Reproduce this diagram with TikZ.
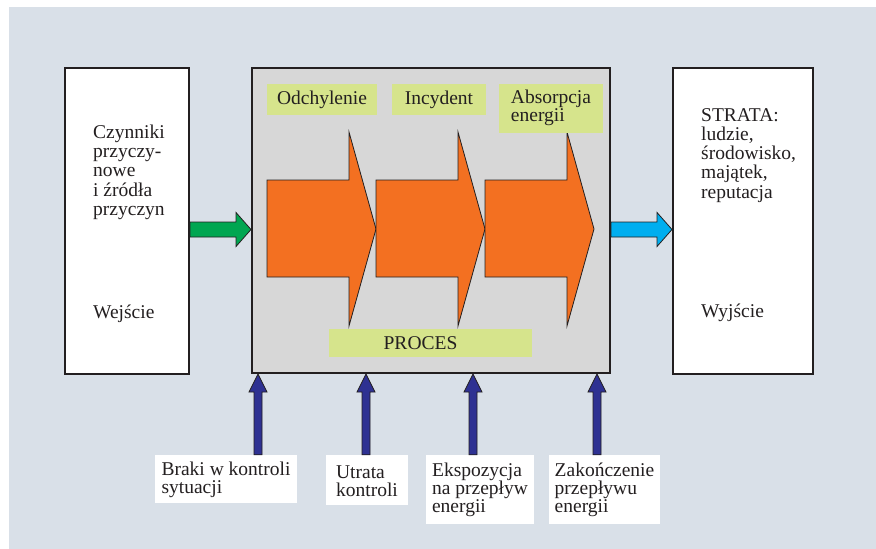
\documentclass[tikz,border=0pt]{standalone}
\usepackage{fontspec}
\setmainfont{Liberation Serif}
\usetikzlibrary{calc}
\definecolor{tlo}{RGB}{217,224,232}
\definecolor{szary}{RGB}{215,215,215}
\definecolor{zolty}{RGB}{214,228,140}
\definecolor{pomar}{RGB}{243,112,33}
\definecolor{ziel}{RGB}{0,166,81}
\definecolor{cyjan}{RGB}{0,174,239}
\definecolor{granat}{RGB}{46,49,146}
\definecolor{kontur}{RGB}{35,31,32}

\begin{document}
\begin{tikzpicture}[x=1pt,y=-1pt,
  every node/.style={inner sep=0pt,text=kontur,font=\rmfamily\fontsize{19.5}{19.25}\selectfont},
  box/.style={draw=kontur,line width=2pt},
  etykieta/.style={fill=zolty,align=left},
  opis/.style={fill=white,align=left,font=\rmfamily\fontsize{19.5}{18}\selectfont},
  gruba/.style={draw=kontur,line width=0.8pt,line join=miter}]
\useasboundingbox (0,0) rectangle (876,549);
\fill[white] (0,0) rectangle (876,549);
\fill[tlo] (9,7) rectangle (876,549);
% bloki
\node[box,fill=white,minimum width=124,minimum height=306] (wej) at (127,221) {};
\node[box,fill=szary,minimum width=358,minimum height=305] (proc) at (431,220.5) {};
\node[box,fill=white,minimum width=140,minimum height=306] (wyj) at (743,221) {};
\node[anchor=north west,align=left] (przyczyny) at (93,124.7) {Czynniki\\przyczy-\\nowe\\i źródła\\przyczyn};
\node[anchor=base west] (wejscie) at (93,318) {Wejście};
\node[anchor=north west,align=left] (strata) at (701,108) {STRATA:\\ludzie,\\środowisko,\\majątek,\\reputacja};
\node[anchor=base west] (wyjscie) at (701,317) {Wyjście};
% strzalki procesu
\foreach \l in {267,376,485}
  \draw[gruba,fill=pomar] (\l,180) -- (\l+82,180) -- (\l+82,132) -- (\l+109,229) -- (\l+82,326) -- (\l+82,277) -- (\l,277) -- cycle;
\node[etykieta,minimum width=110,minimum height=31] (odchylenie) at (322,99.5) {Odchylenie};
\node[etykieta,minimum width=94,minimum height=31] (incydent) at (439,99.5) {Incydent};
\node[etykieta,minimum width=104,minimum height=49] (absorpcja) at (551,108.5) {\raisebox{-1.5pt}{\begin{tabular}{@{}l@{}}Absorpcja\\[-0.75pt]energii\end{tabular}}};
\node[etykieta,minimum width=203,minimum height=28] (proces) at (430.5,343) {PROCES\hspace{20pt}};
% wejscie i wyjscie
\coordinate (g0) at (wej.east |- 0,229.5);
\coordinate (g1) at (proc.west |- 0,229.5);
\draw[gruba,fill=ziel] ($(g0)+(0,-7.5)$) -- ($(g1)+(-15,-7.5)$) -- ($(g1)+(-15,-17)$) -- (g1) -- ($(g1)+(-15,17)$) -- ($(g1)+(-15,7.5)$) -- ($(g0)+(0,7.5)$) -- cycle;
\coordinate (c0) at (proc.east |- 0,229.5);
\coordinate (c1) at (wyj.west |- 0,229.5);
\draw[gruba,fill=cyjan] ($(c0)+(0,-7.5)$) -- ($(c1)+(-15,-7.5)$) -- ($(c1)+(-15,-17)$) -- (c1) -- ($(c1)+(-15,17)$) -- ($(c1)+(-15,7.5)$) -- ($(c0)+(0,7.5)$) -- cycle;
% czynniki od dolu
\node[opis,minimum width=142,minimum height=48] (braki) at (226,479) {Braki w kontroli\\sytuacji\vspace{-2pt}};
\node[opis,minimum width=82,minimum height=50] (utrata) at (367,480) {Utrata\\kontroli\vspace{-2pt}};
\node[opis,minimum width=108,minimum height=69] (ekspozycja) at (480,489.5) {Ekspozycja\\na przepływ\\energii};
\node[opis,minimum width=111,minimum height=69] (zakonczenie) at (604.5,489.5) {Zakończenie\\przepływu\\energii};
\foreach \n/\x in {braki/258,utrata/366,ekspozycja/473,zakonczenie/597}{
  \coordinate (pocz) at (\n.north -| \x,0);
  \coordinate (kon) at (proc.south -| \x,0);
  \draw[gruba,fill=granat] ($(pocz)+(-4,0)$) -- ($(kon)+(-4,18)$) -- ($(kon)+(-9,18)$) -- (kon) -- ($(kon)+(9,18)$) -- ($(kon)+(4,18)$) -- ($(pocz)+(4,0)$) -- cycle;
}
\end{tikzpicture}
\end{document}
